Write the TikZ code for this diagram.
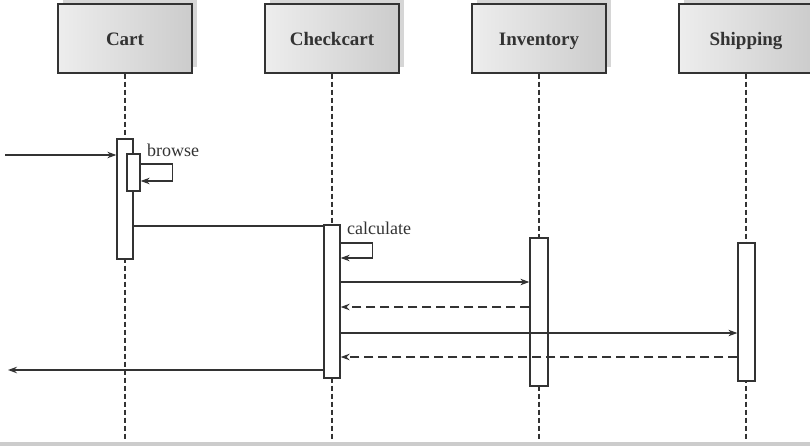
\documentclass[tikz,border=0pt]{standalone}
\usepackage{fontspec}
\setmainfont{Liberation Serif}
\usetikzlibrary{arrows.meta,shadows}
\definecolor{ink}{HTML}{333333}
\tikzset{
  header/.style={draw=ink, line width=1.3pt, minimum width=134pt, minimum height=69pt,
    left color=gray!14, middle color=gray!4, right color=gray!40,
    general shadow={fill=gray!32, shadow xshift=5pt, shadow yshift=6pt},
    font=\fontsize{19}{22}\selectfont\bfseries, text=ink, inner sep=0pt,
    text height=14pt, text depth=1pt},
  actbar/.style={draw=ink, line width=1.3pt, fill=white, inner sep=0pt},
  lifeline/.style={draw=ink, line width=1.2pt, dash pattern=on 5pt off 3pt},
  msg/.style={draw=ink, line width=1.2pt, -{Stealth[length=9pt,width=6.5pt]}},
  ret/.style={msg, dash pattern=on 9pt off 5pt},
  lbl/.style={font=\fontsize{18}{21}\selectfont, text=ink, inner sep=0pt, anchor=base west}
}
\begin{document}
\begin{tikzpicture}[x=1pt,y=-1pt]
\useasboundingbox (0,0) rectangle (810,445);
\fill[gray!40] (0,442) rectangle (810,446);
% headers
\node[header] (cart) at (125,38.5) {Cart};
\node[header] (check) at (332,38.5) {Checkcart};
\node[header] (inv) at (539,38.5) {Inventory};
\node[header] (ship) at (746,38.5) {Shipping};
% lifeline ends
\coordinate (cartend) at (125,441);
\coordinate (checkend) at (332,441);
\coordinate (invend) at (539,441);
\coordinate (shipend) at (746,441);
\draw[lifeline] (cart.south) -- (cartend);
\draw[lifeline] (check.south) -- (checkend);
\draw[lifeline] (inv.south) -- (invend);
\draw[lifeline] (ship.south) -- (shipend);
% activation bars
\node[actbar, minimum width=16pt, minimum height=120pt] (cartact) at (125,199) {};
\node[actbar, minimum width=13pt, minimum height=37pt] (cartsub) at (133.5,172.5) {};
\node[actbar, minimum width=16pt, minimum height=153pt] (checkact) at (332,301.5) {};
\node[actbar, minimum width=18pt, minimum height=148pt] (invact) at (539,312) {};
\node[actbar, minimum width=17pt, minimum height=138pt] (shipact) at (746.5,312) {};
% messages
\coordinate (start) at (5,155);
\coordinate (finish) at (8,370);
\draw[msg] (start) -- (cartact.west |- start);
\draw[msg] (cartsub.east |- 0,164) -- ++(32,0) |- (cartsub.east |- 0,181);
\node[lbl] (browse) at (147,156) {browse};
\draw[draw=ink, line width=1.2pt] (cartact.east |- 0,226) -- (checkact.west |- 0,226);
\draw[msg] (checkact.east |- 0,243) -- ++(32,0) |- (checkact.east |- 0,258);
\node[lbl] (calc) at (347,234) {calculate};
\draw[msg] (checkact.east |- 0,282) -- (invact.west |- 0,282);
\draw[ret] (invact.west |- 0,307) -- (checkact.east |- 0,307);
\draw[msg] (checkact.east |- 0,333) -- (shipact.west |- 0,333);
\draw[ret] (shipact.west |- 0,357) -- (checkact.east |- 0,357);
\draw[msg] (checkact.west |- finish) -- (finish);
\end{tikzpicture}
\end{document}
